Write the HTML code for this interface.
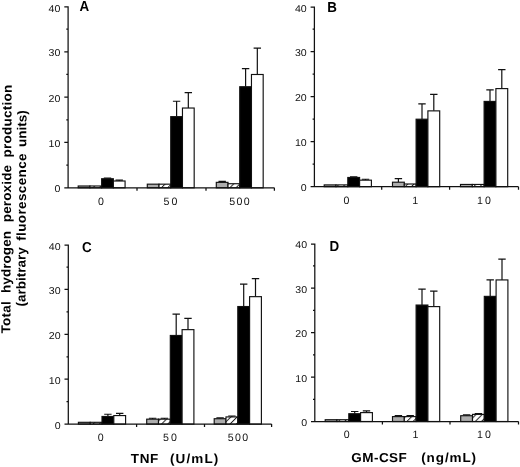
<!DOCTYPE html>
<html lang="en"><head><meta charset="utf-8"><title>Figure</title>
<style>
html,body{margin:0;padding:0;background:#fff;}
body{width:520px;height:467px;overflow:hidden;}
svg{display:block;font-family:"Liberation Sans", Arial, Helvetica, sans-serif;text-rendering:geometricPrecision;}
</style></head><body>
<svg width="520" height="467" viewBox="0 0 520 467">
<defs>
<pattern id="hatch" width="4.4" height="4.4" patternUnits="userSpaceOnUse" patternTransform="rotate(-45)">
<rect width="4.4" height="4.4" fill="#fff"/><rect y="0" width="4.4" height="1" fill="#222"/></pattern>
</defs>
<rect width="520" height="467" fill="#fff"/>
<g id="panelA">
<rect x="78.20" y="185.99" width="11.72" height="1.81" fill="#adadad" stroke="#111" stroke-width="1.15"/>
<rect x="89.92" y="185.99" width="11.72" height="1.81" fill="url(#hatch)" stroke="#111" stroke-width="1.15"/>
<path d="M107.50 178.74V178.06M103.80 178.06H111.20" stroke="#111" stroke-width="1.2" fill="none"/>
<rect x="101.64" y="178.74" width="11.72" height="9.07" fill="#000" stroke="#111" stroke-width="1.15"/>
<path d="M119.22 181.00V180.09M115.52 180.09H122.92" stroke="#111" stroke-width="1.2" fill="none"/>
<rect x="113.36" y="181.00" width="11.72" height="6.80" fill="#fff" stroke="#111" stroke-width="1.15"/>
<rect x="147.30" y="184.17" width="11.72" height="3.63" fill="#adadad" stroke="#111" stroke-width="1.15"/>
<rect x="159.02" y="184.17" width="11.72" height="3.63" fill="url(#hatch)" stroke="#111" stroke-width="1.15"/>
<path d="M176.60 116.64V101.23M172.90 101.23H180.30" stroke="#111" stroke-width="1.2" fill="none"/>
<rect x="170.74" y="116.64" width="11.72" height="71.16" fill="#000" stroke="#111" stroke-width="1.15"/>
<path d="M188.32 108.03V92.62M184.62 92.62H192.02" stroke="#111" stroke-width="1.2" fill="none"/>
<rect x="182.46" y="108.03" width="11.72" height="79.77" fill="#fff" stroke="#111" stroke-width="1.15"/>
<path d="M222.16 182.36V181.45M218.46 181.45H225.86" stroke="#111" stroke-width="1.2" fill="none"/>
<rect x="216.30" y="182.36" width="11.72" height="5.44" fill="#adadad" stroke="#111" stroke-width="1.15"/>
<rect x="228.02" y="183.72" width="11.72" height="4.08" fill="url(#hatch)" stroke="#111" stroke-width="1.15"/>
<path d="M245.60 86.73V68.60M241.90 68.60H249.30" stroke="#111" stroke-width="1.2" fill="none"/>
<rect x="239.74" y="86.73" width="11.72" height="101.07" fill="#000" stroke="#111" stroke-width="1.15"/>
<path d="M257.32 74.49V48.20M253.62 48.20H261.02" stroke="#111" stroke-width="1.2" fill="none"/>
<rect x="251.46" y="74.49" width="11.72" height="113.31" fill="#fff" stroke="#111" stroke-width="1.15"/>
<path d="M68.1 6.35V187.8H274.4M64.30 187.80H68.1M66.30 165.14H68.1M64.30 142.48H68.1M66.30 119.81H68.1M64.30 97.15H68.1M66.30 74.49H68.1M64.30 51.82H68.1M66.30 29.16H68.1M64.30 6.95H68.1M137 187.8v3M206 187.8v3M274.4 187.8v3" stroke="#111" stroke-width="1.25" fill="none"/>
<text transform="translate(60.40 192.30) scale(1.06 1)" text-anchor="end" font-size="10" fill="#111">0</text>
<text transform="translate(60.40 146.98) scale(1.06 1)" text-anchor="end" font-size="10" fill="#111">10</text>
<text transform="translate(60.40 101.65) scale(1.06 1)" text-anchor="end" font-size="10" fill="#111">20</text>
<text transform="translate(60.40 56.32) scale(1.06 1)" text-anchor="end" font-size="10" fill="#111">30</text>
<text transform="translate(60.40 11.90) scale(1.06 1)" text-anchor="end" font-size="10" fill="#111">40</text>
<text x="100.90" y="204.70" text-anchor="middle" font-size="10.6" letter-spacing="0" fill="#111">0</text>
<text x="171.50" y="204.70" text-anchor="middle" font-size="10.6" letter-spacing="2.0" fill="#111">50</text>
<text x="240.15" y="204.70" text-anchor="middle" font-size="10.6" letter-spacing="1.3" fill="#111">500</text>
<text transform="translate(79.50 10.60) scale(0.93 1)" font-size="14.4" font-weight="bold" fill="#000">A</text>
</g>
<g id="panelB">
<rect x="324.20" y="184.90" width="11.80" height="1.80" fill="#adadad" stroke="#111" stroke-width="1.15"/>
<rect x="336.00" y="184.90" width="11.80" height="1.80" fill="url(#hatch)" stroke="#111" stroke-width="1.15"/>
<path d="M353.70 177.47V176.80M350.00 176.80H357.40" stroke="#111" stroke-width="1.2" fill="none"/>
<rect x="347.80" y="177.47" width="11.80" height="9.22" fill="#000" stroke="#111" stroke-width="1.15"/>
<path d="M365.50 180.17V179.27M361.80 179.27H369.20" stroke="#111" stroke-width="1.2" fill="none"/>
<rect x="359.60" y="180.17" width="11.80" height="6.52" fill="#fff" stroke="#111" stroke-width="1.15"/>
<path d="M398.40 182.20V178.60M394.70 178.60H402.10" stroke="#111" stroke-width="1.2" fill="none"/>
<rect x="392.50" y="182.20" width="11.80" height="4.50" fill="#adadad" stroke="#111" stroke-width="1.15"/>
<rect x="404.30" y="184.00" width="11.80" height="2.70" fill="url(#hatch)" stroke="#111" stroke-width="1.15"/>
<path d="M422.00 119.20V103.90M418.30 103.90H425.70" stroke="#111" stroke-width="1.2" fill="none"/>
<rect x="416.10" y="119.20" width="11.80" height="67.50" fill="#000" stroke="#111" stroke-width="1.15"/>
<path d="M433.80 110.87V94.45M430.10 94.45H437.50" stroke="#111" stroke-width="1.2" fill="none"/>
<rect x="427.90" y="110.87" width="11.80" height="75.83" fill="#fff" stroke="#111" stroke-width="1.15"/>
<rect x="460.50" y="184.45" width="11.80" height="2.25" fill="#adadad" stroke="#111" stroke-width="1.15"/>
<rect x="472.30" y="184.45" width="11.80" height="2.25" fill="url(#hatch)" stroke="#111" stroke-width="1.15"/>
<path d="M490.00 101.42V89.95M486.30 89.95H493.70" stroke="#111" stroke-width="1.2" fill="none"/>
<rect x="484.10" y="101.42" width="11.80" height="85.27" fill="#000" stroke="#111" stroke-width="1.15"/>
<path d="M501.80 88.60V69.70M498.10 69.70H505.50" stroke="#111" stroke-width="1.2" fill="none"/>
<rect x="495.90" y="88.60" width="11.80" height="98.10" fill="#fff" stroke="#111" stroke-width="1.15"/>
<path d="M314.4 6.55V186.7H518.5M310.60 186.70H314.4M312.60 164.20H314.4M310.60 141.70H314.4M312.60 119.20H314.4M310.60 96.70H314.4M312.60 74.20H314.4M310.60 51.70H314.4M312.60 29.20H314.4M310.60 7.15H314.4M381.7 186.7v3M449.6 186.7v3M518.5 186.7v3" stroke="#111" stroke-width="1.25" fill="none"/>
<text transform="translate(306.70 191.20) scale(1.06 1)" text-anchor="end" font-size="10" fill="#111">0</text>
<text transform="translate(306.70 146.20) scale(1.06 1)" text-anchor="end" font-size="10" fill="#111">10</text>
<text transform="translate(306.70 101.20) scale(1.06 1)" text-anchor="end" font-size="10" fill="#111">20</text>
<text transform="translate(306.70 56.20) scale(1.06 1)" text-anchor="end" font-size="10" fill="#111">30</text>
<text transform="translate(306.70 12.10) scale(1.06 1)" text-anchor="end" font-size="10" fill="#111">40</text>
<text x="346.50" y="203.60" text-anchor="middle" font-size="10.6" letter-spacing="0" fill="#111">0</text>
<text x="415.20" y="203.60" text-anchor="middle" font-size="10.6" letter-spacing="0" fill="#111">1</text>
<text x="484.90" y="203.60" text-anchor="middle" font-size="10.6" letter-spacing="2.0" fill="#111">10</text>
<text transform="translate(327.20 12.10) scale(0.93 1)" font-size="14.4" font-weight="bold" fill="#000">B</text>
</g>
<g id="panelC">
<rect x="78.40" y="422.31" width="11.80" height="1.80" fill="#adadad" stroke="#111" stroke-width="1.15"/>
<rect x="90.20" y="422.31" width="11.80" height="1.80" fill="url(#hatch)" stroke="#111" stroke-width="1.15"/>
<path d="M107.90 416.47V414.23M104.20 414.23H111.60" stroke="#111" stroke-width="1.2" fill="none"/>
<rect x="102.00" y="416.47" width="11.80" height="7.63" fill="#000" stroke="#111" stroke-width="1.15"/>
<path d="M119.70 415.57V413.33M116.00 413.33H123.40" stroke="#111" stroke-width="1.2" fill="none"/>
<rect x="113.80" y="415.57" width="11.80" height="8.53" fill="#fff" stroke="#111" stroke-width="1.15"/>
<path d="M152.60 419.16V418.27M148.90 418.27H156.30" stroke="#111" stroke-width="1.2" fill="none"/>
<rect x="146.70" y="419.16" width="11.80" height="4.94" fill="#adadad" stroke="#111" stroke-width="1.15"/>
<path d="M164.40 419.16V418.27M160.70 418.27H168.10" stroke="#111" stroke-width="1.2" fill="none"/>
<rect x="158.50" y="419.16" width="11.80" height="4.94" fill="url(#hatch)" stroke="#111" stroke-width="1.15"/>
<path d="M176.20 335.47V314.16M172.50 314.16H179.90" stroke="#111" stroke-width="1.2" fill="none"/>
<rect x="170.30" y="335.47" width="11.80" height="88.63" fill="#000" stroke="#111" stroke-width="1.15"/>
<path d="M188.00 329.64V318.42M184.30 318.42H191.70" stroke="#111" stroke-width="1.2" fill="none"/>
<rect x="182.10" y="329.64" width="11.80" height="94.46" fill="#fff" stroke="#111" stroke-width="1.15"/>
<path d="M220.10 418.72V417.82M216.40 417.82H223.80" stroke="#111" stroke-width="1.2" fill="none"/>
<rect x="214.20" y="418.72" width="11.80" height="5.39" fill="#adadad" stroke="#111" stroke-width="1.15"/>
<path d="M231.90 416.92V416.02M228.20 416.02H235.60" stroke="#111" stroke-width="1.2" fill="none"/>
<rect x="226.00" y="416.92" width="11.80" height="7.18" fill="url(#hatch)" stroke="#111" stroke-width="1.15"/>
<path d="M243.70 306.53V284.09M240.00 284.09H247.40" stroke="#111" stroke-width="1.2" fill="none"/>
<rect x="237.80" y="306.53" width="11.80" height="117.57" fill="#000" stroke="#111" stroke-width="1.15"/>
<path d="M255.50 296.66V278.71M251.80 278.71H259.20" stroke="#111" stroke-width="1.2" fill="none"/>
<rect x="249.60" y="296.66" width="11.80" height="127.45" fill="#fff" stroke="#111" stroke-width="1.15"/>
<path d="M68.3 244.45V424.1H271.6M64.50 424.10H68.3M66.50 401.66H68.3M64.50 379.23H68.3M66.50 356.79H68.3M64.50 334.35H68.3M66.50 311.91H68.3M64.50 289.48H68.3M66.50 267.04H68.3M64.50 245.05H68.3M136.6 424.1v3M204.5 424.1v3M271.6 424.1v3" stroke="#111" stroke-width="1.25" fill="none"/>
<text transform="translate(60.60 428.60) scale(1.06 1)" text-anchor="end" font-size="10" fill="#111">0</text>
<text transform="translate(60.60 383.73) scale(1.06 1)" text-anchor="end" font-size="10" fill="#111">10</text>
<text transform="translate(60.60 338.85) scale(1.06 1)" text-anchor="end" font-size="10" fill="#111">20</text>
<text transform="translate(60.60 293.98) scale(1.06 1)" text-anchor="end" font-size="10" fill="#111">30</text>
<text transform="translate(60.60 250.00) scale(1.06 1)" text-anchor="end" font-size="10" fill="#111">40</text>
<text x="100.60" y="441.00" text-anchor="middle" font-size="10.6" letter-spacing="0" fill="#111">0</text>
<text x="171.00" y="441.00" text-anchor="middle" font-size="10.6" letter-spacing="2.0" fill="#111">50</text>
<text x="238.65" y="441.00" text-anchor="middle" font-size="10.6" letter-spacing="1.3" fill="#111">500</text>
<text transform="translate(81.90 251.70) scale(0.93 1)" font-size="14.4" font-weight="bold" fill="#000">C</text>
</g>
<g id="panelD">
<rect x="325.20" y="419.72" width="11.80" height="1.78" fill="#adadad" stroke="#111" stroke-width="1.15"/>
<rect x="337.00" y="419.72" width="11.80" height="1.78" fill="url(#hatch)" stroke="#111" stroke-width="1.15"/>
<path d="M354.70 413.72V411.50M351.00 411.50H358.40" stroke="#111" stroke-width="1.2" fill="none"/>
<rect x="348.80" y="413.72" width="11.80" height="7.78" fill="#000" stroke="#111" stroke-width="1.15"/>
<path d="M366.50 412.61V410.83M362.80 410.83H370.20" stroke="#111" stroke-width="1.2" fill="none"/>
<rect x="360.60" y="412.61" width="11.80" height="8.89" fill="#fff" stroke="#111" stroke-width="1.15"/>
<path d="M398.40 416.61V415.72M394.70 415.72H402.10" stroke="#111" stroke-width="1.2" fill="none"/>
<rect x="392.50" y="416.61" width="11.80" height="4.89" fill="#adadad" stroke="#111" stroke-width="1.15"/>
<path d="M410.20 416.61V415.72M406.50 415.72H413.90" stroke="#111" stroke-width="1.2" fill="none"/>
<rect x="404.30" y="416.61" width="11.80" height="4.89" fill="url(#hatch)" stroke="#111" stroke-width="1.15"/>
<path d="M422.00 305.04V289.04M418.30 289.04H425.70" stroke="#111" stroke-width="1.2" fill="none"/>
<rect x="416.10" y="305.04" width="11.80" height="116.46" fill="#000" stroke="#111" stroke-width="1.15"/>
<path d="M433.80 306.60V291.04M430.10 291.04H437.50" stroke="#111" stroke-width="1.2" fill="none"/>
<rect x="427.90" y="306.60" width="11.80" height="114.90" fill="#fff" stroke="#111" stroke-width="1.15"/>
<path d="M466.60 415.72V414.83M462.90 414.83H470.30" stroke="#111" stroke-width="1.2" fill="none"/>
<rect x="460.70" y="415.72" width="11.80" height="5.78" fill="#adadad" stroke="#111" stroke-width="1.15"/>
<path d="M478.40 414.39V413.50M474.70 413.50H482.10" stroke="#111" stroke-width="1.2" fill="none"/>
<rect x="472.50" y="414.39" width="11.80" height="7.11" fill="url(#hatch)" stroke="#111" stroke-width="1.15"/>
<path d="M490.20 296.37V279.93M486.50 279.93H493.90" stroke="#111" stroke-width="1.2" fill="none"/>
<rect x="484.30" y="296.37" width="11.80" height="125.13" fill="#000" stroke="#111" stroke-width="1.15"/>
<path d="M502.00 279.93V259.04M498.30 259.04H505.70" stroke="#111" stroke-width="1.2" fill="none"/>
<rect x="496.10" y="279.93" width="11.80" height="141.57" fill="#fff" stroke="#111" stroke-width="1.15"/>
<path d="M314.8 243.55V421.5H518.5M311.00 421.50H314.8M313.00 399.27H314.8M311.00 377.05H314.8M313.00 354.82H314.8M311.00 332.60H314.8M313.00 310.38H314.8M311.00 288.15H314.8M313.00 265.92H314.8M311.00 244.15H314.8M382.4 421.5v3M450 421.5v3M518.5 421.5v3" stroke="#111" stroke-width="1.25" fill="none"/>
<text transform="translate(307.10 426.00) scale(1.06 1)" text-anchor="end" font-size="10" fill="#111">0</text>
<text transform="translate(307.10 381.55) scale(1.06 1)" text-anchor="end" font-size="10" fill="#111">10</text>
<text transform="translate(307.10 337.10) scale(1.06 1)" text-anchor="end" font-size="10" fill="#111">20</text>
<text transform="translate(307.10 292.65) scale(1.06 1)" text-anchor="end" font-size="10" fill="#111">30</text>
<text transform="translate(307.10 248.20) scale(1.06 1)" text-anchor="end" font-size="10" fill="#111">40</text>
<text x="346.70" y="438.40" text-anchor="middle" font-size="10.6" letter-spacing="0" fill="#111">0</text>
<text x="415.40" y="438.40" text-anchor="middle" font-size="10.6" letter-spacing="0" fill="#111">1</text>
<text x="484.90" y="438.40" text-anchor="middle" font-size="10.6" letter-spacing="2.0" fill="#111">10</text>
<text transform="translate(329.50 250.90) scale(0.93 1)" font-size="14.4" font-weight="bold" fill="#000">D</text>
</g>
<text transform="translate(10.3 333.4) rotate(-89.68) scale(1 0.96)" font-size="13.5" font-weight="bold" letter-spacing="0.22" word-spacing="0" fill="#000">Total</text>
<text transform="translate(10.53 293.0) rotate(-89.68) scale(1 0.96)" font-size="13.5" font-weight="bold" letter-spacing="0.07" word-spacing="0" fill="#000">hydrogen</text>
<text transform="translate(10.93 222.15) rotate(-89.68) scale(1 0.96)" font-size="13.5" font-weight="bold" letter-spacing="0.13" word-spacing="0" fill="#000">peroxide</text>
<text transform="translate(11.29 157.45) rotate(-89.68) scale(1 0.96)" font-size="13.5" font-weight="bold" letter-spacing="0.24" word-spacing="0" fill="#000">production</text>
<text transform="translate(25.36 306.4) rotate(-89.68) scale(1 0.96)" font-size="13.5" font-weight="bold" letter-spacing="0.0" word-spacing="0" fill="#000">(arbitrary</text>
<text transform="translate(25.72 240.8) rotate(-89.68) scale(1 0.96)" font-size="13.5" font-weight="bold" letter-spacing="0.37" word-spacing="0" fill="#000">fluorescence</text>
<text transform="translate(26.25 147.1) rotate(-89.68) scale(1 0.96)" font-size="13.5" font-weight="bold" letter-spacing="0.0" word-spacing="0" fill="#000">units)</text>
<text transform="translate(130.7 462.9) scale(1 0.96)" font-size="13.5" font-weight="bold" letter-spacing="0.7" word-spacing="0" fill="#000">TNF</text>
<text transform="translate(170.0 462.9) scale(1 0.96)" font-size="13.5" font-weight="bold" letter-spacing="1.1" word-spacing="0" fill="#000">(U/mL)</text>
<text transform="translate(351.3 461.9) scale(1 0.96)" font-size="13.5" font-weight="bold" letter-spacing="0.45" word-spacing="0" fill="#000">GM-CSF</text>
<text transform="translate(421.2 461.9) scale(1 0.96)" font-size="13.5" font-weight="bold" letter-spacing="0.9" word-spacing="0" fill="#000">(ng/mL)</text>
</svg>
</body></html>
